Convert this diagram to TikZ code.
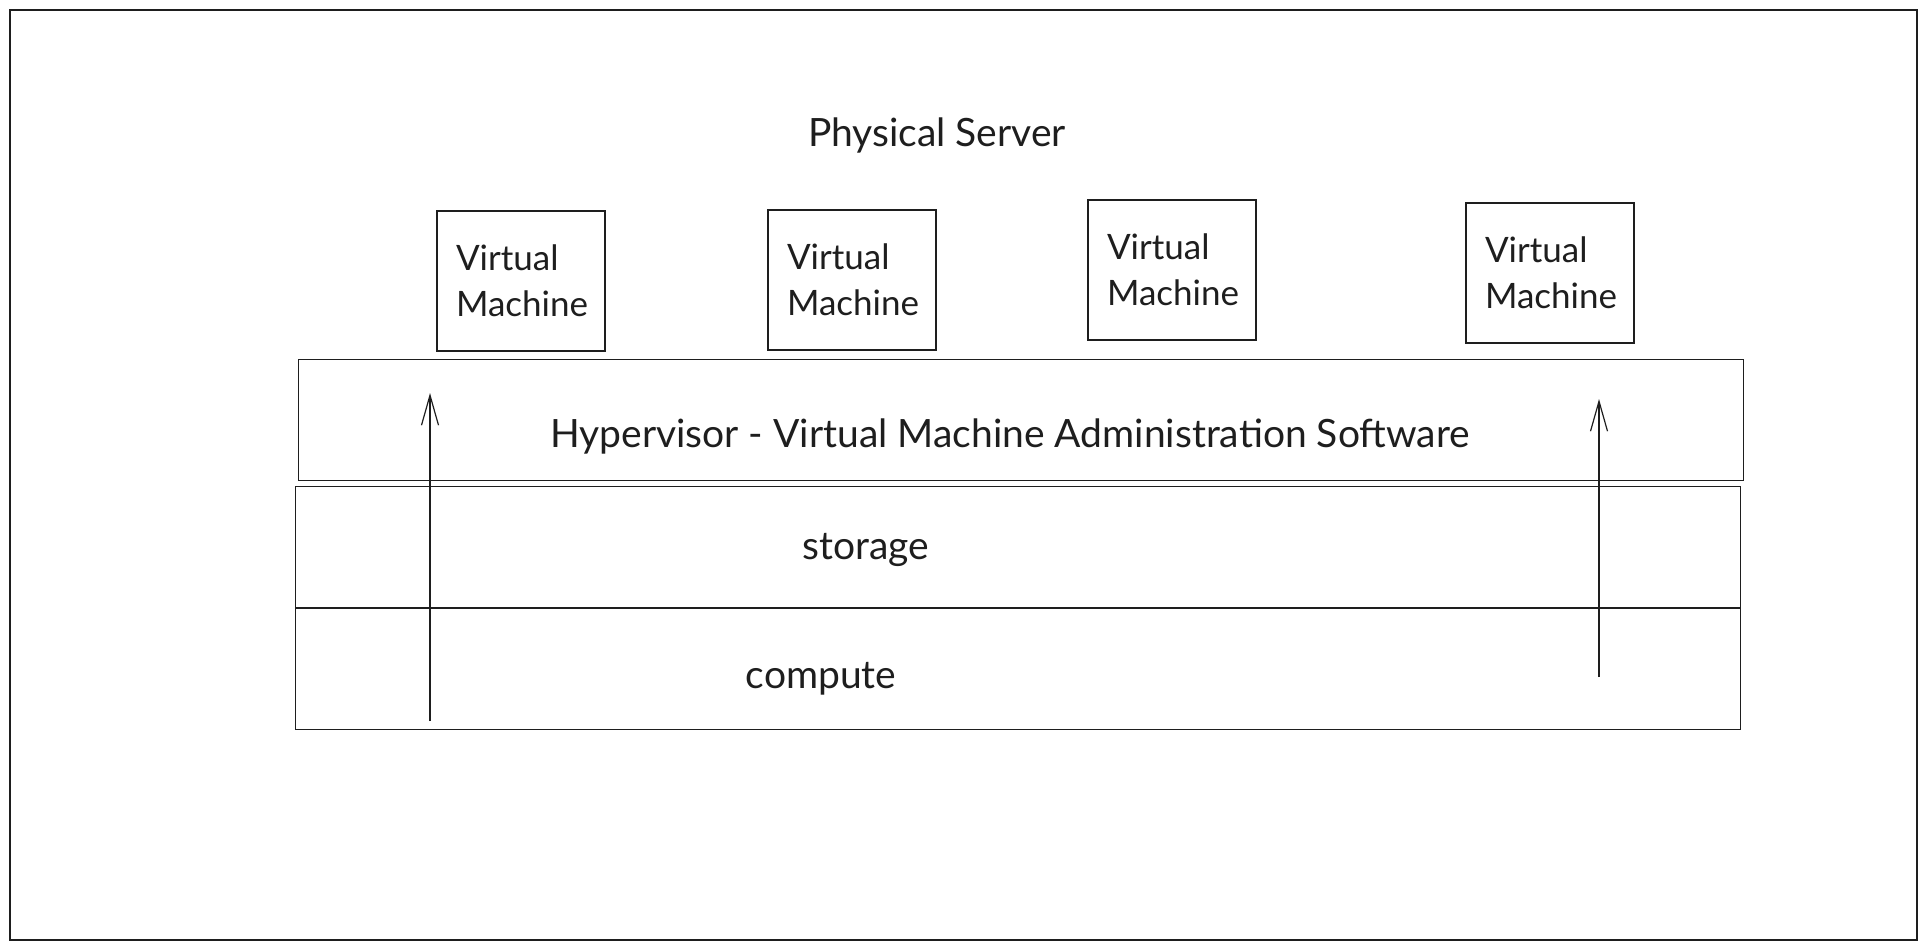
\documentclass[tikz,border=0pt]{standalone}
\usepackage{fontspec}
\setmainfont{Lato}
\usetikzlibrary{positioning, arrows.meta}
\definecolor{ink}{HTML}{1E1E1E}

\begin{document}
\begin{tikzpicture}[x=1pt, y=-1pt,
    every node/.style={font=\fontsize{35}{46}\selectfont, text=ink},
    label text/.style={font=\fontsize{39}{46}\selectfont},
    frame/.style={draw=ink, line width=1.2pt},
    vm/.style={rectangle, draw=ink, line width=1.2pt, minimum width=168pt, minimum height=140pt, text width=130pt, inner xsep=19pt, align=left},
    layer/.style={rectangle, draw=ink, line width=1.2pt, minimum width=1445pt, minimum height=121pt, inner sep=0pt},
    line/.style={draw=ink, line width=1.2pt, -{Straight Barb[length=30pt, width=17pt]}}
]
\useasboundingbox (0,0) rectangle (1927,950);

% Server frame
\draw[frame] (10,10) rectangle (1917,940);
\node[label text] (server) at (937,135) {Physical Server};

% Virtual machines
\node[vm] (vm1) at (521,281) {Virtual\\Machine};
\node[vm] (vm2) at (852,280) {Virtual\\Machine};
\node[vm] (vm3) at (1172,270) {Virtual\\Machine};
\node[vm] (vm4) at (1550,273) {Virtual\\Machine};

% Layers
\node[layer] (hyper) at (1021,420) {};
\node[layer] (storage) at (1018,547) {};
\node[layer] (compute) [below=0pt of storage] {};

\node[label text] (hyper_text) at (1010,436) {Hypervisor - Virtual Machine Administration Software};
\node[label text] (storage_text) at (866,550) {storage};
\node[label text] (compute_text) at (821,679) {compute};

% Arrows
\coordinate (left_start) at (430,721);
\coordinate (left_end) at (430,393);
\coordinate (right_start) at (1599,677);
\coordinate (right_end) at (1599,399);
\draw[line] (left_start) -- (left_end);
\draw[line] (right_start) -- (right_end);

\end{tikzpicture}
\end{document}
